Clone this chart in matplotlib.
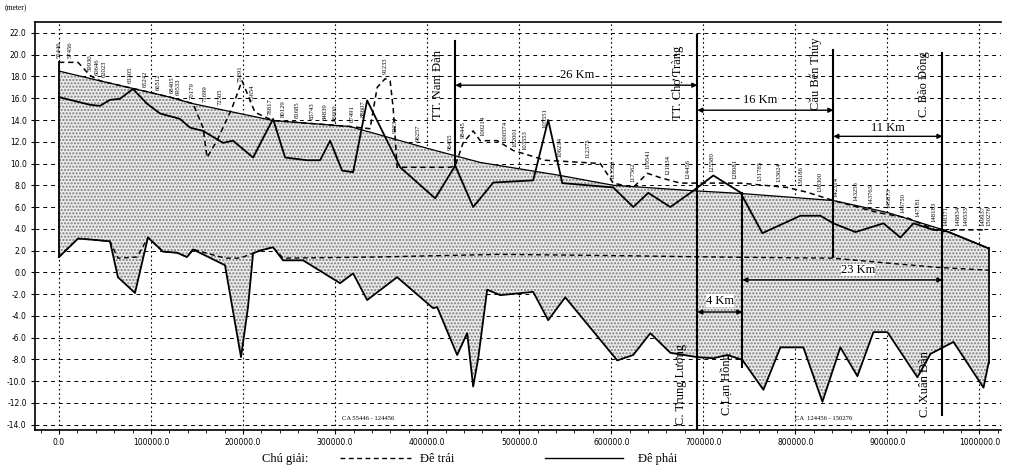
import matplotlib
matplotlib.use("Agg")
import matplotlib.pyplot as plt
from matplotlib.lines import Line2D
import numpy as np

# cao trinh dinh de - duong thiet ke (net lien manh)
top_x = [0, 44600, 80400, 120700, 145700, 232600, 316300, 370700, 400000, 457600,
         544600, 602200, 689200, 740200, 841300, 900000, 960900, 1010000]
top_y = [18.5, 17.6, 16.9, 16.1, 15.5, 13.95, 13.4, 12.1, 11.4, 10.1,
         8.9, 8.0, 7.5, 7.25, 6.6, 5.5, 3.9, 2.2]

# de phai - dinh (net lien)
rt_x = [0, 33700, 44600, 55400, 66300, 80400, 95700, 109800, 131500, 142400,
        156500, 178300, 189100, 210900, 232600, 245700, 269600, 283700, 294600, 307600,
        319600, 334800, 370700, 408700, 430500, 450000, 471800, 515200, 531500, 546800,
        602200, 623900, 640200, 664200, 689200, 710900, 740200, 764200, 805500, 827200,
        841300, 865300, 895700, 914200, 928300, 950000, 960900, 1010000]
rt_y = [16.1, 15.4, 15.3, 15.85, 15.95, 16.85, 15.5, 14.6, 14.1, 13.3,
        13.0, 11.9, 12.1, 10.55, 14.1, 10.55, 10.3, 10.3, 12.1, 9.35,
        9.2, 15.8, 9.65, 6.8, 9.8, 6.0, 8.25, 8.45, 14.0, 8.2,
        7.8, 6.0, 7.3, 6.0, 7.5, 8.9, 7.35, 3.6, 5.2, 5.2,
        4.5, 3.7, 4.5, 3.2, 4.5, 3.9, 3.9, 2.2]

# de trai - dinh (net dut)
lt_x = [0, 20700, 33700, 44600, 80400, 120700, 145700, 156500, 160900, 171700,
        188000, 198900, 213000, 232600, 316300, 338000, 345700, 354400, 359800, 363100,
        367400, 425000, 430500, 439100, 450000, 457600, 476100, 493500, 528300, 588100,
        602200, 623900, 639200, 653300, 675000, 710900, 740200, 791300, 813100, 841300,
        889200, 921800, 957600, 971800, 1006600]
lt_y = [19.3, 19.3, 18.1, 17.6, 16.9, 16.1, 15.5, 13.3, 10.55, 12.1,
        15.1, 17.6, 14.7, 13.95, 13.4, 13.2, 17.0, 17.8, 17.6, 15.1,
        9.65, 9.65, 9.8, 11.9, 13.0, 12.1, 12.1, 11.2, 10.3, 10.0,
        8.2, 7.8, 9.1, 8.7, 8.2, 8.2, 8.2, 7.8, 7.35, 6.6,
        5.5, 5.0, 3.7, 3.9, 3.9]

# de phai - chan (net lien)
rb_x = [0, 20700, 35900, 55400, 64100, 82600, 96700, 113000, 128300, 139100,
        145700, 180400, 197800, 205400, 210900, 218500, 232600, 243500, 265200, 305400,
        319600, 334800, 367400, 406500, 410900, 432600, 443500, 450000, 455500, 465200,
        479400, 515200, 531500, 550000, 606500, 623900, 642400, 664200, 693500, 710900,
        726100, 742400, 765300, 783800, 808700, 829400, 848900, 867400, 884800, 900000,
        932600, 946800, 971800, 1004400, 1010000]
rb_y = [1.4, 3.1, 3.0, 2.85, -0.45, -1.9, 3.2, 1.9, 1.8, 1.4,
        2.1, 0.65, -7.8, -3.2, 1.75, 2.0, 2.3, 1.1, 1.1, -1.0,
        -0.1, -2.55, -0.45, -3.3, -3.2, -7.6, -5.6, -10.5, -7.9, -1.6,
        -2.1, -1.8, -4.4, -2.3, -8.1, -7.6, -5.6, -7.4, -7.8, -7.9,
        -7.6, -8.05, -10.8, -6.9, -6.9, -11.9, -6.9, -9.55, -5.5, -5.5,
        -9.65, -7.5, -6.4, -10.6, -8.3]

# de trai - chan (net dut)
lb_x = [0, 20700, 35900, 55400, 64100, 84800, 96700, 113000, 128300, 139100,
        145700, 180400, 196700, 210900, 218500, 232600, 243500, 341300, 479400, 588100,
        718500, 841300, 900000, 954400, 1010000]
lb_y = [1.4, 3.1, 3.0, 2.85, 1.3, 1.4, 3.2, 1.9, 1.8, 1.4,
        2.1, 1.3, 1.3, 1.75, 2.0, 2.3, 1.3, 1.4, 1.65, 1.55,
        1.4, 1.3, 0.85, 0.45, 0.2]

# ly trinh ghi tren dinh de
chain_labels = ["55446", "57456", "59930", "60646", "62023", "63305", "65242", "66512",
                "68405", "69533", "70179", "71699", "72305", "75291", "75654", "78817",
                "80129", "81685", "83743", "84839", "86600", "87491", "88607", "91233",
                "92234", "96257", "96455", "98445", "100214", "100574", "102001", "103553",
                "105551", "106214", "112375", "113521", "117562", "119541", "121834", "124456",
                "125580", "128081", "131785", "133624", "136186", "138300", "142314", "143256",
                "143763", "145873", "146750", "147181", "148183", "148371", "148834", "149533",
                "149937", "150276"]
chain_x = [0, 12000, 33700, 41300, 48900, 77200, 93500, 107600, 122800, 129400,
           144600, 158700, 175000, 196700, 209800, 229300, 243500, 258700, 275000, 289100,
           300000, 318500, 330400, 354400, 365200, 390200, 425000, 439100, 460900, 484800,
           495700, 506500, 528300, 544600, 575000, 602200, 623900, 640200, 662000, 683700,
           709800, 734800, 762000, 781600, 805500, 827200, 843500, 865300, 881600, 901100,
           916300, 932600, 950000, 963100, 976100, 984800, 1003300, 1010000]

x_ticks = np.arange(0, 1000001, 100000)
y_ticks = np.arange(-14, 23, 2)

serif = "Liberation Serif"

fig = plt.figure(figsize=(10.09, 4.70), dpi=100)
ax = fig.add_axes([0.0347, 0.085, 0.957, 0.868])
ax.set_xlim(-26000, 1023000)
ax.set_ylim(-14.5, 23.0)

# to cham giua dinh va chan
xs = np.union1d(top_x, rb_x)
up = np.interp(xs, top_x, top_y)
lo = np.interp(xs, rb_x, rb_y)
ax.fill_between(xs, lo, up, facecolor="#ebebeb", edgecolor="#7a7a7a",
                hatch=".....", linewidth=0, zorder=1)

ax.plot(top_x, top_y, color="k", lw=0.9, zorder=3)
ax.plot(rt_x, rt_y, color="k", lw=1.3, zorder=3)
ax.plot(lt_x, lt_y, color="k", lw=1.1, ls=(0, (3.5, 2.5)), zorder=3)
ax.plot(rb_x, rb_y, color="k", lw=1.3, zorder=3)
ax.plot(lb_x, lb_y, color="k", lw=1.0, ls=(0, (3.5, 2.5)), zorder=3)
ax.plot([top_x[-1], top_x[-1]], [rb_y[-1], top_y[-1]], color="k", lw=1.3, zorder=3)
ax.plot([0, 0], [rb_y[0], lt_y[0]], color="k", lw=1.3, zorder=3)

# ly trinh
env_x = np.array(chain_x, dtype=float)
env_y = np.maximum.reduce([np.interp(env_x, top_x, top_y),
                           np.interp(env_x, rt_x, rt_y),
                           np.interp(env_x, lt_x, lt_y)])
for lab, cx, cy in zip(chain_labels, env_x, env_y):
    ax.text(cx, cy + 0.4, lab, rotation=90, fontsize=4.8, ha="center", va="bottom",
            family=serif, zorder=4)

# cong, thi tran
marks = [
    (430500, 9.8, 21.3, "TT. Nam Đàn", 412000, 17.3),
    (693500, -14.5, 21.8, "TT. Chợ Tràng", 673000, 17.4),
    (841300, 1.4, 20.4, "Cầu Bến Thủy", 822000, 18.3),
    (959800, -13.1, 20.2, "C. Bào Đông", 940000, 17.3),
]
for mx, y0, y1, name, tx, ty in marks:
    ax.plot([mx, mx], [y0, y1], color="k", lw=1.5, zorder=4)
    ax.text(tx, ty, name, rotation=90, fontsize=9, ha="center", va="center",
            family=serif, zorder=5)
ax.plot([742400, 742400], [-8.7, 7.3], color="k", lw=1.5, zorder=4)

bottom_names = [("C. Trung Lương", 676000), ("C.Lạn Hồng", 725000), ("C. Xuân Đàn", 941000)]
for name, tx in bottom_names:
    ax.text(tx, -10.3, name, rotation=90, fontsize=9, ha="center", va="center",
            family=serif, zorder=5)

# khoang cach
spans = [("26 Km", 430500, 693500, 17.2, 563000, 18.1),
         ("16 Km", 693500, 841300, 14.9, 762000, 15.8),
         ("11 Km", 841300, 959800, 12.5, 900000, 13.3),
         ("23 Km", 742400, 959800, -0.7, 868000, 0.2),
         ("4 Km", 693500, 742400, -3.65, 718000, -2.6)]
for txt, x1, x2, y, tx, ty in spans:
    ax.annotate("", xy=(x2, y), xytext=(x1, y),
                arrowprops=dict(arrowstyle="<|-|>", color="k", lw=1.0,
                                mutation_scale=7, shrinkA=0, shrinkB=0), zorder=5)
    ax.text(tx, ty, txt, fontsize=9, ha="center", va="center", family=serif,
            zorder=5, bbox=dict(facecolor="white", edgecolor="none", pad=0.2))

ax.text(308000, -13.4, "CA 55446 - 124456", fontsize=4.8, family=serif, va="center")
ax.text(800000, -13.4, "CA  124456 - 150276", fontsize=4.8, family=serif, va="center")

# truc, luoi
ax.set_xticks(x_ticks)
ax.set_xticklabels([f"{v:.1f}" for v in x_ticks], fontsize=5.5)
ax.set_xticks(np.arange(-20000, 1020001, 20000), minor=True)
ax.set_yticks(y_ticks)
ax.set_yticklabels([f"{v:.1f}" for v in y_ticks], fontsize=5.5)
ax.tick_params(axis="both", length=3, width=0.8, pad=3)
ax.tick_params(axis="x", which="minor", length=2, width=0.6)
ax.yaxis.grid(True, color="k", lw=0.7, ls=(0, (4, 4)))
ax.xaxis.grid(True, color="k", lw=0.8, ls=(0, (1.5, 2.5)))
ax.set_axisbelow(True)
ax.spines["right"].set_visible(False)
for s in ["left", "bottom", "top"]:
    ax.spines[s].set_linewidth(1.2)

fig.text(0.005, 0.982, "(meter)", fontsize=5.5, family=serif, va="center")

# chu giai
fig.text(0.26, 0.024, "Chú giải:", fontsize=9, family=serif, va="center")
fig.add_artist(Line2D([0.337, 0.407], [0.026, 0.026], color="k", lw=1.0,
                      ls=(0, (3.5, 2.5))))
fig.text(0.416, 0.024, "Đê trái", fontsize=9, family=serif, va="center")
fig.add_artist(Line2D([0.54, 0.617], [0.026, 0.026], color="k", lw=1.0))
fig.text(0.632, 0.024, "Đê phải", fontsize=9, family=serif, va="center")

fig.savefig("out.png", dpi=100)
